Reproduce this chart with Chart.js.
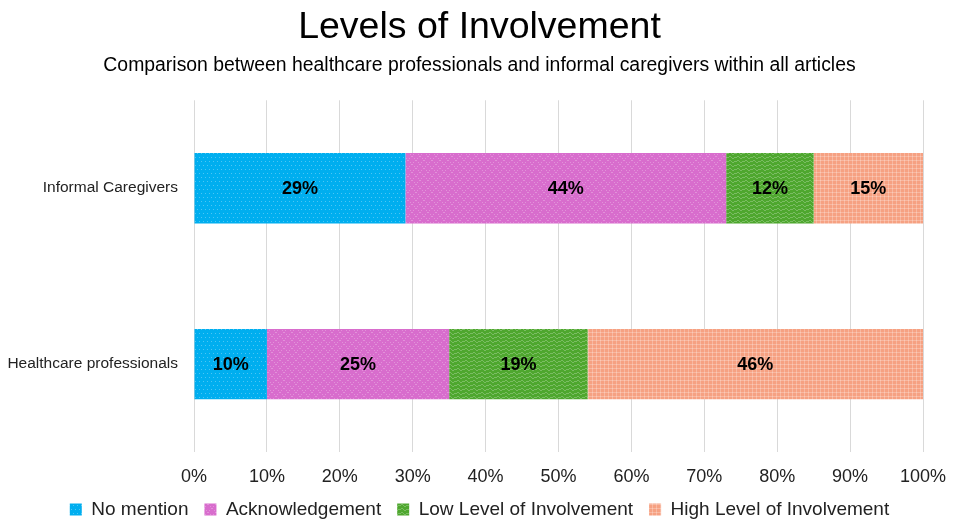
<!DOCTYPE html>
<html>
<head>
<meta charset="utf-8">
<script src="https://cdn.jsdelivr.net/npm/chart.js@4.4.1/dist/chart.umd.min.js"></script>
<style>
  html, body { margin: 0; padding: 0; background: #fff; }
  #wrap { width: 953px; height: 520px; position: relative; }
</style>
</head>
<body>
<div id="wrap"><canvas id="levelsChart"></canvas></div>
<script>
// categories and series (percent of articles)
const groups = ['Informal Caregivers', 'Healthcare professionals'];
const seriesNames = ['No mention', 'Acknowledgement', 'Low Level of Involvement', 'High Level of Involvement'];
const noMention = [29, 10];
const acknowledgement = [44, 25];
const lowInvolvement = [12, 19];
const highInvolvement = [15, 46];
const tickValues = [0, 10, 20, 30, 40, 50, 60, 70, 80, 90, 100];

const FONT = '"Liberation Sans", Arial, sans-serif';

// small textured fills, like office pattern fills
function makePattern(bg, fg, kind) {
    const c = document.createElement('canvas');
    c.width = 8; c.height = 8;
    const g = c.getContext('2d');
    g.fillStyle = bg;
    g.fillRect(0, 0, 8, 8);
    g.fillStyle = fg;
    if (kind === 'dots') {
        g.fillRect(1, 1, 1, 1); g.fillRect(5, 1, 1, 1);
        g.fillRect(3, 5, 1, 1); g.fillRect(7, 5, 1, 1);
    } else if (kind === 'cross') {
        for (let i = 0; i < 8; i += 2) {
            g.fillRect(i, i, 1, 1);
            g.fillRect(7 - i, i, 1, 1);
        }
    } else if (kind === 'wave') {
        [[0,1],[1,0],[2,0],[3,1],[4,2],[5,2],[6,1],[7,1]].forEach(p => g.fillRect(p[0], p[1], 1, 1));
        [[0,5],[1,4],[2,4],[3,5],[4,6],[5,6],[6,5],[7,5]].forEach(p => g.fillRect(p[0], p[1], 1, 1));
    } else if (kind === 'grid') {
        g.fillRect(0, 0, 8, 1); g.fillRect(0, 4, 8, 1);
        g.fillRect(0, 0, 1, 8); g.fillRect(4, 0, 1, 8);
    }
    return g.createPattern(c, 'repeat');
}

const fills = [
    makePattern('#00aeef', 'rgba(255,255,255,0.3)', 'dots'),
    makePattern('#d86dcd', 'rgba(255,255,255,0.25)', 'cross'),
    makePattern('#4ea72e', 'rgba(255,255,255,0.25)', 'wave'),
    makePattern('#f6a182', 'rgba(255,255,255,0.25)', 'grid')
];

// value labels in the middle of each segment
const segmentLabels = {
    id: 'segmentLabels',
    afterDatasetsDraw(chart) {
        const ctx = chart.ctx;
        ctx.save();
        ctx.font = 'bold 18px ' + FONT;
        ctx.fillStyle = '#000';
        ctx.textAlign = 'center';
        ctx.textBaseline = 'middle';
        chart.data.datasets.forEach((ds, i) => {
            chart.getDatasetMeta(i).data.forEach((bar, j) => {
                const p = bar.getProps(['x', 'base', 'y'], true);
                ctx.fillText(Math.round(ds.data[j]) + '%', (p.x + p.base) / 2, p.y + 1);
            });
        });
        ctx.restore();
    }
};

// wide gaps between legend items, but a short legend box
const compactLegend = {
    id: 'compactLegend',
    afterInit(chart) {
        const legend = chart.legend;
        const fit = legend.fit.bind(legend);
        legend.fit = function () {
            fit();
            this.height = 36;
        };
    }
};

const allSeries = [noMention, acknowledgement, lowInvolvement, highInvolvement];

new Chart(document.getElementById('levelsChart'), {
    type: 'bar',
    data: {
        labels: groups,
        datasets: allSeries.map((vals, i) => ({
            label: seriesNames[i],
            data: vals,
            backgroundColor: fills[i],
            borderWidth: 0,
            categoryPercentage: 1,
            barPercentage: 0.4
        }))
    },
    options: {
        indexAxis: 'y',
        responsive: true,
        maintainAspectRatio: false,
        animation: false,
        layout: { padding: { left: 6, right: 0, top: 0, bottom: 0 } },
        plugins: {
            title: {
                display: true,
                text: 'Levels of Involvement',
                color: '#000',
                font: { family: FONT, size: 37.5, weight: 'normal' },
                padding: { top: 5, bottom: 4 }
            },
            subtitle: {
                display: true,
                text: 'Comparison between healthcare professionals and informal caregivers within all articles',
                color: '#000',
                font: { family: FONT, size: 19.4 },
                padding: { bottom: 23 }
            },
            legend: {
                position: 'bottom',
                labels: {
                    boxWidth: 12,
                    boxHeight: 12,
                    color: '#222',
                    padding: 16,
                    font: { family: FONT, size: 19, lineHeight: 1 }
                }
            },
            tooltip: { enabled: false }
        },
        scales: {
            x: {
                stacked: true,
                min: 0,
                max: 100,
                afterBuildTicks: axis => { axis.ticks = tickValues.map(v => ({ value: v })); },
                afterFit: axis => {
                    axis.height = 32;
                    axis.paddingRight = 30;
                },
                grid: { color: '#d9d9d9', lineWidth: 1, drawTicks: false },
                border: { display: false },
                ticks: {
                    color: '#222',
                    padding: 16,
                    font: { family: FONT, size: 18, lineHeight: 1 },
                    callback: v => v + '%'
                }
            },
            y: {
                stacked: true,
                afterFit: axis => { axis.width = 188; },
                grid: { display: false },
                border: { display: false },
                ticks: {
                    color: '#222',
                    padding: 8,
                    font: { family: FONT, size: 15.5 }
                }
            }
        }
    },
    plugins: [segmentLabels, compactLegend]
});
</script>
</body>
</html>
